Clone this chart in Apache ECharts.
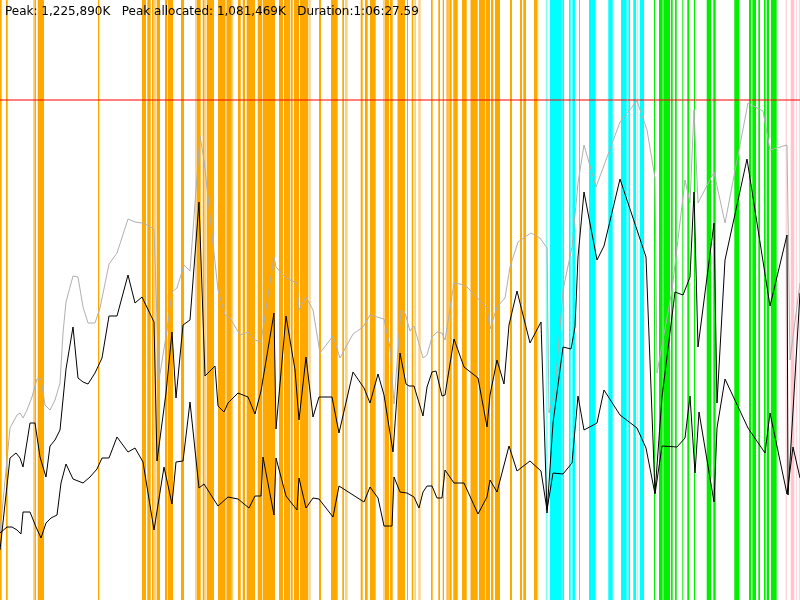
<!DOCTYPE html>
<html><head><meta charset="utf-8">
<script src="https://cdn.jsdelivr.net/npm/echarts@6/dist/echarts.min.js"></script>
<style>html,body{margin:0;padding:0;background:#fff}#c{width:800px;height:600px}</style>
</head><body><div id="c"></div>
<script>
// time in seconds, memory in MB
var headerText = 'Peak: 1,225,890K   Peak allocated: 1,081,469K   Duration:1:06:27.59';
var durationSec = 4000;
var memMax = 1500;
var peakMem = 1250;

// GC events: [start s, duration s]
var gcOrange = [[0,8.5],[30,8.5],[172.5,7.5],[188.5,31.5],[490,6.5],[710,20],[736.5,17],[760,7.5],[785,15],[825,11.5],[840,25],[905,15],[985,18.5],[1013.5,8],[1033.5,36.5],[1090,35],[1133.5,25],[1190,13.5],[1213.5,11.5],[1233.5,41.5],[1288.5,23],[1315,60],[1395,20],[1420,30],[1453.5,10],[1470,25],[1500,41.5],[1595,10],[1655,33.5],[1711.5,8.5],[1803.5,10],[1825,13.5],[1850,28.5],[1925,20],[1950,13.5],[1990,35],[2035,5],[2058.5,8],[2155,8.5],[2191.5,8.5],[2213.5,6.5],[2236.5,7],[2246.5,12],[2266.5,22],[2310,23.5],[2355,33.5],[2395,30],[2428.5,21.5],[2455,11.5],[2475,25],[2550,10],[2600,10],[2616.5,13.5],[2670,15]];
var gcOrangeLight = [[165,7.5],[767.5,16],[975,10],[1021.5,8.5],[1125,8.5],[1158.5,8],[1545,8.5],[1725,13.5],[1915,10],[1985,5],[2071.5,8.5],[2091.5,12],[2230,6.5],[2350,5],[2685,6.5]];
var gcCyan = [[2750,58.5],[2811.5,8.5],[2845,8.5],[2861.5,13.5],[2895,5],[2945,33.5],[3041.5,22],[3105,28.5],[3141.5,8.5],[3166.5,13.5],[3200,20]];
var gcCyanLight = [[2728.5,10],[3186.5,5]];
var gcGreen = [[3270,5],[3295,18.5],[3316.5,33.5],[3355,8.5],[3375,8.5],[3411.5,5],[3436.5,10],[3470,5],[3533.5,21.5],[3566.5,12],[3671.5,25],[3745,10],[3761.5,18.5],[3791.5,8.5],[3820,8.5],[3833.5,11.5],[3855,28.5]];
var gcPink = [[3928.5,5],[3953.5,18],[3980,3.5],[3996.5,3.5]];

// memory lines: [time s, MB]
var heapTotal = [[0,167.5],[50,430],[85,462.5],[100,467.5],[115,455],[135,475],[160,507.5],[185,552.5],[205,552.5],[225,487.5],[250,475],[275,500],[300,542.5],[315,667.5],[330,745],[365,810],[390,807.5],[415,732.5],[440,692.5],[475,692.5],[500,730],[545,840],[585,867.5],[640,952.5],[675,945],[710,942.5],[735,937.5],[770,927.5],[795,550],[835,675],[860,770],[885,780],[920,837.5],[950,822.5],[1000,1160],[1020,1100],[1090,775],[1125,712.5],[1150,705],[1200,662.5],[1240,670],[1275,650],[1305,645],[1370,857.5],[1380,832.5],[1430,805],[1485,792.5],[1495,725],[1530,757.5],[1565,725],[1600,617.5],[1665,660],[1700,605],[1765,665],[1815,682.5],[1850,712.5],[1885,707.5],[1920,702.5],[1950,632.5],[1970,490],[2005,725],[2025,717.5],[2050,672.5],[2070,685],[2115,605],[2135,612.5],[2160,657.5],[2185,670],[2210,667.5],[2225,650],[2270,792.5],[2300,790],[2335,782.5],[2435,730],[2450,677.5],[2485,732.5],[2525,755],[2550,832.5],[2590,895],[2655,917.5],[2700,905],[2735,880],[2745,467.5],[2775,525],[2815,775],[2860,882.5],[2890,1042.5],[2920,1137.5],[2980,1032.5],[3100,1195],[3185,1247.5],[3235,1175],[3275,1055],[3285,567.5],[3360,775],[3425,1050],[3450,992.5],[3470,1225],[3490,992.5],[3570,1070],[3625,942.5],[3740,1242.5],[3815,1222.5],[3850,1125],[3935,1137.5],[3950,600],[4000,792.5]];
var allocatedHigh = [[0,125],[50,355],[80,367.5],[100,355],[115,332.5],[150,442.5],[175,442.5],[200,357.5],[230,307.5],[250,385],[275,400],[300,425],[330,577.5],[365,682.5],[390,555],[415,545],[440,540],[475,567.5],[510,605],[545,710],[585,710],[640,812.5],[675,742.5],[710,757.5],[770,695],[785,347.5],[830,517.5],[860,670],[880,505],[915,687.5],[950,700],[995,995],[1025,560],[1075,585],[1090,485],[1120,470],[1140,492.5],[1190,517.5],[1240,507.5],[1275,465],[1305,522.5],[1315,517.5],[1370,717.5],[1380,427.5],[1430,710],[1475,575],[1495,450],[1530,607.5],[1565,457.5],[1595,507.5],[1660,507.5],[1695,417.5],[1765,570],[1820,530],[1850,492.5],[1890,565],[1920,512.5],[1965,370],[1970,370],[2000,617.5],[2030,540],[2045,535],[2070,535],[2115,460],[2135,532.5],[2160,570],[2180,572.5],[2210,510],[2225,512.5],[2270,652.5],[2320,582.5],[2390,555],[2435,432.5],[2450,512.5],[2485,600],[2520,540],[2545,687.5],[2585,772.5],[2650,642.5],[2705,695],[2735,217.5],[2765,442.5],[2815,632.5],[2855,627.5],[2875,682.5],[2890,857.5],[2920,1020],[2985,850],[3020,885],[3100,1052.5],[3230,857.5],[3275,267.5],[3310,507.5],[3375,770],[3415,762.5],[3450,807.5],[3470,1020],[3490,632.5],[3570,942.5],[3585,492.5],[3625,850],[3735,1102.5],[3850,735],[3935,912.5],[3940,262.5],[4000,767.5]];
var allocatedLow = [[0,167.5],[35,182.5],[60,182.5],[85,175],[105,165],[115,220],[150,220],[180,182.5],[205,155],[230,192.5],[255,205],[285,212.5],[305,292.5],[330,340],[365,302.5],[415,292.5],[450,307.5],[485,327.5],[510,355],[545,355],[585,407.5],[640,370],[675,380],[715,345],[770,175],[820,332.5],[860,240],[880,345],[915,347.5],[950,495],[995,280],[1020,290],[1090,235],[1140,257.5],[1190,252.5],[1245,230],[1275,260],[1305,260],[1315,357.5],[1370,212.5],[1380,355],[1430,260],[1485,225],[1495,305],[1530,230],[1565,255],[1595,252.5],[1665,207.5],[1695,285],[1820,245],[1850,282.5],[1890,255],[1920,185],[1960,185],[1970,307.5],[2000,270],[2035,267.5],[2070,257.5],[2095,230],[2115,270],[2135,285],[2160,285],[2185,255],[2210,255],[2225,325],[2270,292.5],[2320,292.5],[2390,215],[2435,257.5],[2450,300],[2485,270],[2545,385],[2585,322.5],[2650,347.5],[2705,322.5],[2735,225],[2765,317.5],[2815,315],[2860,342.5],[2890,510],[2920,425],[2985,442.5],[3020,525],[3100,462.5],[3185,430],[3230,380],[3275,265],[3310,385],[3385,382.5],[3425,405],[3450,510],[3475,317.5],[3495,470],[3570,245],[3585,430],[3625,552.5],[3740,430],[3825,367.5],[3850,467.5],[3935,265],[3965,382.5],[4000,305]];

function gcSeries(data, color) {
  return {
    type: 'custom', data: data, encode: {x: 0}, silent: true, z: 1,
    renderItem: function (params, api) {
      var s = api.value(0), d = api.value(1);
      var x0 = api.coord([s, 0])[0];
      var x1 = api.coord([s + d, 0])[0];
      var cs = params.coordSys;
      return {type: 'rect', shape: {x: x0, y: cs.y, width: Math.max(x1 - x0, 0.6), height: cs.height}, style: {fill: color}};
    }
  };
}
function lineSeries(data, color, z) {
  return {type: 'line', data: data, showSymbol: false, symbol: 'none', silent: true, z: z,
    lineStyle: {color: color, width: 1}, itemStyle: {color: color}};
}
var chart = echarts.init(document.getElementById('c'), null, {renderer: 'canvas'});
var gray = lineSeries(heapTotal, '#b0b0b0', 3);
gray.markLine = {silent: true, symbol: 'none', label: {show: false},
  lineStyle: {color: 'rgba(255,0,0,0.5)', width: 2, type: 'solid'}, data: [{yAxis: peakMem}]};
chart.setOption({
  animation: false,
  backgroundColor: '#ffffff',
  title: {text: headerText, left: 5, top: 6, padding: 0,
    textStyle: {fontFamily: 'DejaVu Sans', fontSize: 12, fontWeight: 'normal', color: '#000'}},
  grid: {left: 0, right: 0, top: 0, bottom: 0},
  xAxis: {type: 'value', min: 0, max: durationSec, show: false},
  yAxis: {type: 'value', min: 0, max: memMax, show: false},
  series: [
    gcSeries(gcOrangeLight, '#ffd384'),
    gcSeries(gcOrange, '#ffa800'),
    gcSeries(gcCyanLight, '#80ffff'),
    gcSeries(gcCyan, '#00ffff'),
    gcSeries(gcGreen, '#00f000'),
    gcSeries(gcPink, '#ffc4cc'),
    gray,
    lineSeries(allocatedHigh, '#000000', 4),
    lineSeries(allocatedLow, '#000000', 4)
  ]
});
</script></body></html>
